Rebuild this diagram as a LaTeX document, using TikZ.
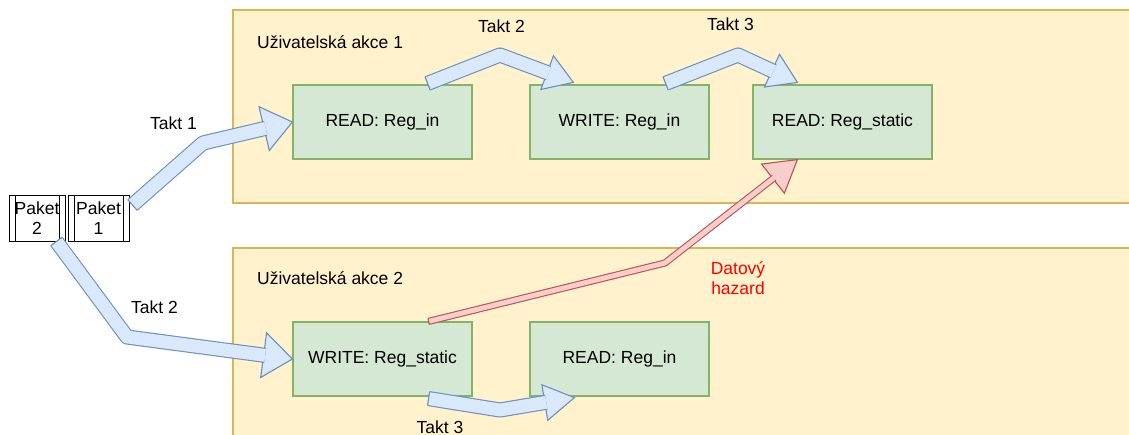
\documentclass[tikz,border=0pt]{standalone}
\usepackage{fontspec}
\setmainfont{Liberation Sans}
\usetikzlibrary{calc}

\definecolor{laneFill}{HTML}{FFF2CC}
\definecolor{laneDraw}{HTML}{D6B656}
\definecolor{opFill}{HTML}{D5E8D4}
\definecolor{opDraw}{HTML}{82B366}
\definecolor{flowFill}{HTML}{DAE8FC}
\definecolor{flowDraw}{HTML}{6C8EBF}
\definecolor{hazFill}{HTML}{F8CECC}
\definecolor{hazDraw}{HTML}{B85450}
\definecolor{hazText}{HTML}{FF0000}

% Block arrow with one bend: fill, stroke, shaft half-width, head half-width,
% head length, tail, bend, tip
\newcommand{\blockarrow}[8]{%
  \coordinate (ba-tail) at (#6);
  \coordinate (ba-bend) at (#7);
  \coordinate (ba-tip) at (#8);
  \coordinate (ba-base) at ($(ba-tip)!#5!(ba-bend)$);
  \filldraw[fill=#1, draw=#2, line width=1.1pt, line join=miter]
    (ba-tip) -- ($(ba-base)!#4!90:(ba-tip)$) -- ($(ba-base)!#4!-90:(ba-tip)$) -- cycle;
  \pgfmathsetlengthmacro{\bagap}{2*(#3)-1.1pt}%
  \draw[draw=#2, line width=1.1pt, double=#1, double distance=\bagap, line join=round]
    (ba-tail) -- (ba-bend) -- ($(ba-tip)!#5-1.5pt!(ba-bend)$);
  \draw[draw=#2, line width=1.1pt]
    ($(ba-tail)!#3!90:(ba-bend)$) -- ($(ba-tail)!#3!-90:(ba-bend)$);
}

\tikzset{
  every node/.style={font=\fontsize{17.5}{20.5}\selectfont},
  lane/.style={fill=laneFill, draw=laneDraw, line width=1.3pt},
  op/.style={rectangle, fill=opFill, draw=opDraw, line width=1.2pt,
    minimum width=179pt, minimum height=74pt, inner sep=0pt},
  packet/.style={rectangle, draw=black, line width=0.9pt, fill=white,
    minimum height=46pt, inner sep=0pt, align=center,
    path picture={
      \draw[line width=0.9pt]
        ([xshift=6pt]path picture bounding box.north west) --
        ([xshift=6pt]path picture bounding box.south west)
        ([xshift=-6pt]path picture bounding box.north east) --
        ([xshift=-6pt]path picture bounding box.south east);
    }},
  lbl/.style={inner sep=1pt, text=black},
}

\begin{document}
\begin{tikzpicture}[x=1pt, y=-1pt]
  \useasboundingbox (0,0) rectangle (1129,435);
  \clip (0,0) rectangle (1129,435);
  \fill[white] (0,0) rectangle (1129,435);

  % swim lanes
  \path[lane] (233,10) rectangle (1140,203);
  \path[lane] (233,248) rectangle (1140,445);
  \node[anchor=west, inner sep=0pt] (lane1) at (257,42) {Uživatelská akce 1};
  \node[anchor=west, inner sep=0pt] (lane2) at (257,278) {Uživatelská akce 2};

  % operations
  \node[op] (r1) at (382.5,122) {READ: Reg\_in};
  \node[op] (w1) at (619.5,122) {WRITE: Reg\_in};
  \node[op] (rs) at (842.5,122) {READ: Reg\_static};
  \node[op] (ws) at (382.5,359) {WRITE: Reg\_static};
  \node[op] (r2) at (619.5,359) {READ: Reg\_in};

  % packets
  \node[packet, minimum width=56pt] (p2) at (37,218) {Paket\\2};
  \node[packet, minimum width=61pt] (p1) at (98.5,218) {Paket\\1};

  % clock-step arrows
  \blockarrow{flowFill}{flowDraw}{7pt}{22.5pt}{29pt}
    {$(p1.east)+(3,-13)$}{203,143}{r1.west}
  \blockarrow{flowFill}{flowDraw}{7pt}{18pt}{28pt}
    {$(r1.north east)+(-45,-1)$}{500,55}{$(w1.north west)+(44,-2)$}
  \blockarrow{flowFill}{flowDraw}{7pt}{18pt}{28pt}
    {$(w1.north east)+(-44,-1)$}{738,55}{$(rs.north west)+(45,-2)$}
  \blockarrow{flowFill}{flowDraw}{7pt}{22.5pt}{29pt}
    {$(p2.south east)+(-9,0)$}{127,337}{ws.west}
  \blockarrow{flowFill}{flowDraw}{7pt}{18pt}{30pt}
    {$(ws.south east)+(-44,2)$}{500,410}{$(r2.south west)+(45,1)$}

  % data hazard
  \blockarrow{hazFill}{hazDraw}{3pt}{18.5pt}{31pt}
    {$(ws.north east)+(-44,0)$}{665,263}{$(rs.south west)+(45,0)$}

  % labels
  \node[lbl] (t1) at (173.5,123) {Takt 1};
  \node[lbl] (t2a) at (501.5,26) {Takt 2};
  \node[lbl] (t3a) at (730.5,24) {Takt 3};
  \node[lbl] (t2b) at (154.5,307) {Takt 2};
  \node[lbl] (t3b) at (440,427) {Takt 3};
  \node[lbl, text=hazText, align=center] (hz) at (738,278) {Datový\\hazard};
\end{tikzpicture}
\end{document}
